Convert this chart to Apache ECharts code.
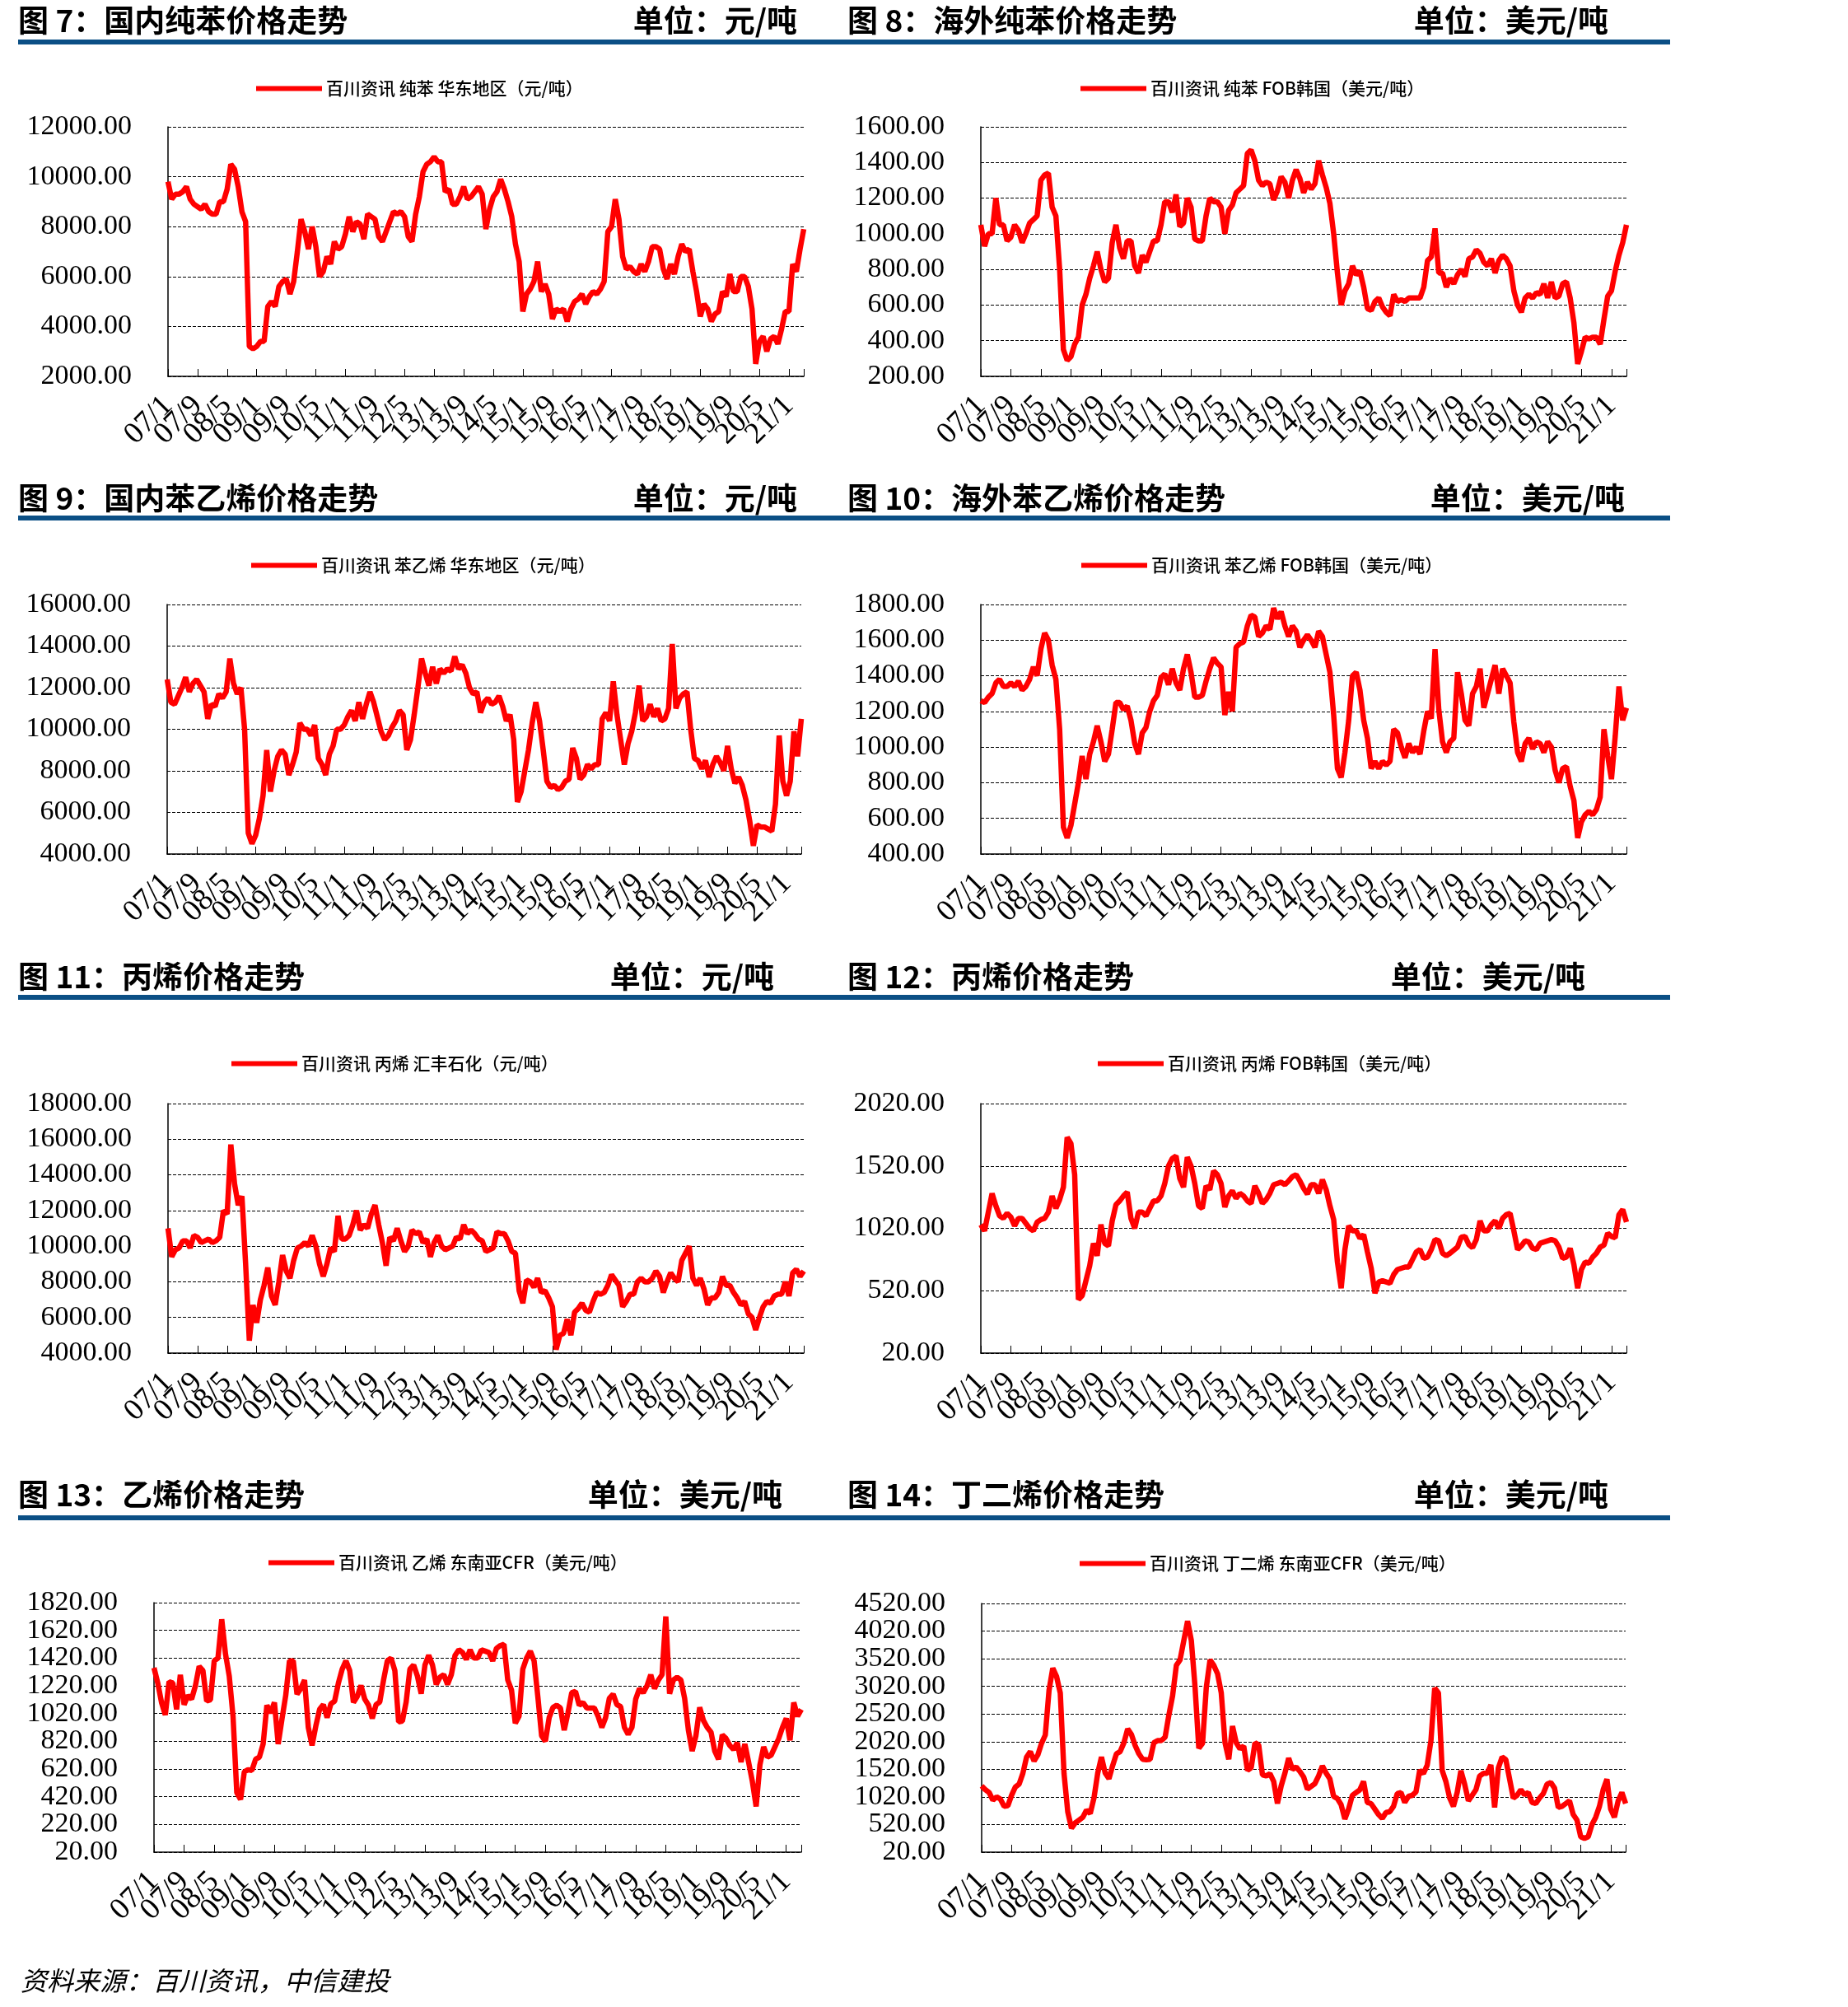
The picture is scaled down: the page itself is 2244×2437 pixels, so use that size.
<!DOCTYPE html>
<html>
<head>
<meta charset="utf-8">
<title>化工品价格走势</title>
<script src="https://cdn.jsdelivr.net/npm/echarts@6.0.0/dist/echarts.min.js"></script>
<style>
  html, body { margin: 0; padding: 0; background: #fff; }
  #main { width: 2244px; height: 2437px; }
</style>
</head>
<body>
<div id="main"></div>
<script>
// 月度类目 07/1 ... 21/5
const months = [];
for (let y = 2007; y <= 2021; y++) {
  for (let m = 1; m <= 12; m++) {
    if (y === 2021 && m > 5) break;
    months.push(String(y).slice(2) + '/' + m);
  }
}

// 图7 纯苯 华东地区（元/吨）
const benzeneEast = [
  9800, 9100, 9300, 9300, 9400, 9600, 9100, 8900, 8800, 8700, 8900, 8600,
  8500, 8500, 9000, 9000, 9500, 10500, 10300, 9600, 8600, 8200, 3200, 3100,
  3200, 3400, 3400, 4800, 5000, 4800, 5600, 5800, 5900, 5300, 5800, 7000,
  8300, 7800, 7100, 8000, 7200, 6000, 6200, 6800, 6500, 7400, 7100, 7200,
  7700, 8400, 7800, 8200, 8100, 7500, 8500, 8400, 8300, 7600, 7400, 7800,
  8200, 8600, 8500, 8600, 8400, 7600, 7400, 8500, 9200, 10200, 10500, 10600,
  10800, 10600, 10600, 9400, 9500, 8900, 8900, 9200, 9600, 9100, 9200, 9400,
  9600, 9300, 7900, 8700, 9200, 9400, 9900, 9500, 9000, 8400, 7300, 6600,
  4600, 5300, 5500, 5800, 6600, 5400, 5700, 5300, 4300, 4700, 4600, 4700,
  4200, 4700, 5000, 5100, 5300, 4900, 5200, 5400, 5300, 5500, 5800, 7800,
  8000, 9100, 8300, 6800, 6300, 6400, 6200, 6100, 6500, 6200, 6600, 7200,
  7200, 7100, 6300, 5900, 6500, 6100, 6800, 7300, 7000, 7100, 6200, 5400,
  4400, 4900, 4700, 4200, 4500, 4600, 5400, 5200, 6100, 5400, 5400, 6000,
  6000, 5600, 4700, 2500, 3400, 3600, 3000, 3500, 3600, 3300, 3900, 4600,
  4600, 6500, 6200, 7100, 7900
];

// 图8 纯苯 FOB韩国（美元/吨）
const benzeneFob = [
  1050, 930, 1000, 1000, 1200, 1050, 1050, 960, 980, 1050, 1020, 950,
  1000, 1060, 1080, 1100, 1300, 1330, 1340, 1150, 1100, 800, 350, 290,
  310, 380, 420, 600, 660, 750, 820, 900, 800, 730, 750, 950,
  1050, 920, 860, 960, 960, 820, 780, 880, 840, 900, 960, 960,
  1050, 1180, 1180, 1120, 1220, 1040, 1060, 1200, 1150, 970, 960, 960,
  1100, 1200, 1180, 1180, 1150, 1000, 1130, 1160, 1230, 1250, 1270, 1450,
  1470, 1410, 1300, 1270, 1290, 1280, 1190, 1240, 1320, 1290, 1200, 1300,
  1360, 1310, 1230, 1290, 1250, 1280, 1410, 1330, 1260, 1170, 1000, 780,
  600, 680, 720, 820, 770, 790, 700, 580, 570, 620, 640, 590,
  560, 540, 660, 620, 630, 620, 640, 640, 640, 640, 700, 850,
  870, 1030, 780, 780, 700, 750, 720, 770, 800, 760, 860, 870,
  910, 890, 840, 820, 860, 780, 850, 880, 860, 820, 680, 600,
  560, 640, 660, 640, 670, 660, 720, 640, 730, 640, 650, 720,
  730, 640, 500, 270, 340, 420, 410, 420, 420, 380, 520, 650,
  680, 790, 880, 950, 1050
];

// 图9 苯乙烯 华东地区（元/吨）
const styreneEast = [
  12400, 11300, 11200, 11600, 12000, 12500, 11800, 12200, 12400, 12100, 11800, 10500,
  11200, 11100, 11700, 11500, 11800, 13400, 12200, 11700, 12000, 10000, 5000, 4500,
  4900, 5700, 6800, 9000, 7000, 8000, 8700, 9000, 8800, 7800, 8300, 8900,
  10300, 10000, 10000, 9700, 10200, 8600, 8300, 7800, 8800, 9200, 10000, 10000,
  10200, 10600, 10900, 10400, 11300, 10500, 11200, 11800, 11300, 10600, 9900, 9500,
  9700, 10100, 10400, 10900, 10700, 9000, 9500, 10700, 12000, 13400, 12700, 12100,
  13000, 12200, 12900, 12700, 12900, 12800, 13500, 12900, 13100, 12700, 12000, 11700,
  11800, 10800, 11300, 11500, 11200, 11300, 11600, 11100, 10400, 10700, 9500, 6500,
  7000, 8000, 9000, 10300, 11300, 10400, 9000, 7500, 7200, 7300, 7100, 7200,
  7500, 7600, 9100, 8600, 7600, 7800, 8300, 8100, 8300, 8300, 10500, 10800,
  10400, 12300, 10700, 9500, 8300, 9300, 9900, 10800, 12100, 10400, 10600, 11200,
  10600, 11000, 10400, 10500, 11000, 14100, 11000, 11500, 11700, 11800, 10000, 8600,
  8500, 8100, 8500, 7700, 8300, 8700, 8400, 8000, 9200, 8100, 7400, 7700,
  7300, 6600, 5600, 4400, 5400, 5300, 5300, 5200, 5100, 6400, 9700, 7500,
  6800, 7500, 9900, 8700, 10500
];

// 图10 苯乙烯 FOB韩国（美元/吨）
const styreneFob = [
  1260, 1250, 1280, 1300, 1360, 1380, 1340, 1340, 1360, 1340, 1370, 1320,
  1340, 1380, 1450, 1400, 1550, 1640, 1600, 1460, 1380, 1100, 550, 490,
  560, 680, 800, 950, 820, 960, 1030, 1120, 1030, 920, 960, 1100,
  1250, 1250, 1210, 1230, 1150, 1020, 960, 1080, 1110, 1200, 1260, 1290,
  1390, 1410, 1350, 1440, 1360, 1320, 1440, 1520, 1420, 1280, 1280, 1290,
  1370, 1440, 1500, 1470, 1450, 1180, 1310, 1200, 1560, 1580, 1590, 1680,
  1740, 1730, 1620, 1640, 1680, 1660, 1780, 1720, 1760, 1680, 1620, 1680,
  1650, 1560, 1600, 1630, 1600, 1560, 1650, 1620, 1520, 1420, 1180, 880,
  830, 970, 1150, 1400, 1420, 1320, 1150, 1050, 880, 920, 880, 920,
  900, 920, 1100, 1080, 1000, 940, 1020, 970, 1000, 960, 1090, 1200,
  1160, 1550, 1210, 1030, 970, 1030, 1050, 1420, 1300, 1150, 1120, 1300,
  1340, 1440, 1220, 1300, 1380, 1460, 1300, 1440, 1400, 1360, 1140, 970,
  920, 1020, 1050, 990, 1030, 1020, 970, 1030, 1000, 870, 800, 880,
  890, 780, 700, 490, 580, 620, 640, 620, 650, 720, 1100, 950,
  820, 1060, 1340, 1150, 1220
];

// 图11 丙烯 汇丰石化（元/吨）
const propyleneEast = [
  11000, 9400, 9800, 9900, 10300, 10300, 9900, 10600, 10500, 10200, 10300, 10400,
  10200, 10300, 10500, 12000, 11800, 15700, 13500, 12300, 12800, 9000, 4700, 6700,
  5700, 7000, 7800, 8800, 7200, 6700, 8000, 9500, 8600, 8200, 9200, 9900,
  10000, 10200, 10000, 10600, 10000, 9000, 8300, 9000, 9900, 9700, 11700, 10400,
  10400, 10600, 11200, 12000, 10900, 11200, 11000, 11800, 12300, 11200, 10200, 8900,
  10500, 10300, 11000, 10300, 9700, 10000, 10900, 10700, 10800, 10200, 10400, 9400,
  10200, 10600, 10000, 9800, 9900, 10000, 10500, 10400, 11200, 10700, 10900, 10700,
  10400, 10300, 9700, 9800, 9900, 10800, 10700, 10700, 10300, 9700, 9600, 7500,
  6800, 8100, 8000, 7700, 8200, 7400, 7500, 7100, 6600, 4200, 5000, 5100,
  5900, 5000, 6300, 6500, 6800, 6400, 6300, 6900, 7400, 7300, 7400, 7800,
  8400, 8100, 7800, 6600, 6900, 7300, 7300, 8000, 8200, 8000, 8000, 8200,
  8600, 8300, 7400, 8000, 8500, 8200, 8000, 9200, 9600, 10000, 8200, 7800,
  8200, 7600, 6700, 7100, 7100, 7400, 8300, 7800, 7800, 7400, 7100, 6700,
  6900, 6200, 6000, 5300, 6000, 6600, 6900, 6800, 7200, 7300, 7300, 8000,
  7200, 8500, 8700, 8300, 8600
];

// 图12 丙烯 FOB韩国（美元/吨）
const propyleneFob = [
  1050, 1000, 1150, 1300, 1200, 1120, 1100, 1140, 1110, 1040, 1100, 1100,
  1060, 1020, 1000, 1070, 1090, 1100, 1150, 1280, 1180, 1250, 1350, 1750,
  1700, 1450, 450, 480, 600, 720, 900, 800, 1050, 900, 880, 1080,
  1210, 1240, 1280, 1310, 1100, 1020, 1150, 1150, 1120, 1180, 1240, 1240,
  1280, 1380, 1520, 1580, 1600, 1420, 1350, 1590, 1520, 1380, 1200, 1180,
  1360, 1330, 1480, 1450, 1380, 1190, 1280, 1320, 1260, 1300, 1280, 1240,
  1220, 1360, 1300, 1220, 1250, 1300, 1370, 1380, 1390, 1370, 1400, 1435,
  1450, 1400, 1340, 1295, 1370, 1370, 1300, 1410, 1330, 1200, 1090, 750,
  540, 850, 1040, 1000, 1000, 940, 970, 830, 700, 500, 590, 600,
  590, 580, 650, 690, 700, 710, 710, 770, 830, 850, 780, 790,
  850, 930, 920, 820, 800, 820, 845, 870, 950, 955, 890, 865,
  930, 1080, 1000, 1000, 1050, 1080, 1020, 1100, 1130, 1140, 1000, 850,
  880, 920, 910, 860, 850, 900, 910, 920, 930, 920, 870, 780,
  790, 860, 730, 540, 690, 750, 740, 790, 820, 870, 885, 980,
  955, 945, 1130, 1170, 1070
];

// 图13 乙烯 东南亚CFR（美元/吨）
const ethyleneCfr = [
  1350, 1240, 1100, 1010, 1250, 1240, 1050, 1300, 1084, 1150, 1124, 1220,
  1360, 1330, 1110, 1120, 1400, 1420, 1700, 1450, 1290, 1000, 450, 400,
  600, 615, 610, 690, 705, 800, 1080, 1025, 1100, 800, 980, 1150,
  1400, 1400, 1160, 1200, 1262, 920, 790, 930, 1050, 1084, 990, 1090,
  1110, 1240, 1340, 1400, 1330, 1100, 1143, 1222, 1124, 1080, 985, 1084,
  1104, 1262, 1400, 1420, 1330, 960, 965, 1104, 1340, 1370, 1290, 1163,
  1370, 1440, 1370, 1230, 1282, 1300, 1230, 1300, 1440, 1480, 1460, 1410,
  1480, 1420, 1420, 1480, 1470, 1460, 1400, 1490, 1510, 1520, 1262, 1190,
  950, 1000, 1340, 1420, 1470, 1400, 1140, 860, 820, 990, 1064, 1080,
  1060, 900, 1025, 1170, 1180, 1080, 1100, 1060, 1060, 1060, 1000, 920,
  990, 1130, 1160, 1084, 1070, 920, 870, 920, 1124, 1200, 1170, 1220,
  1300, 1200, 1260, 1300, 1720, 1163, 1262, 1282, 1262, 1130, 900, 750,
  860, 1064, 970, 920, 886, 750, 690, 866, 840, 790, 760, 810,
  670, 800, 669, 530, 350, 649, 780, 705, 720, 780, 840, 920,
  985, 827, 1100, 1000, 1050
];

// 图14 丁二烯 东南亚CFR（美元/吨）
const butadieneCfr = [
  1220, 1150, 1100, 960, 1020, 980, 850, 860, 1050, 1200, 1250, 1445,
  1740, 1840, 1670, 1780, 1990, 2140, 2950, 3350, 3200, 2900, 1445, 750,
  453, 550, 600, 650, 780, 720, 1000, 1450, 1740, 1450, 1350, 1590,
  1800, 1840, 2000, 2250, 2150, 1950, 1800, 1700, 1693, 1700, 2000, 2040,
  2040, 2100, 2500, 2850, 3400, 3500, 3850, 4200, 3850, 3000, 1900, 1990,
  3000, 3500, 3400, 3250, 2900, 2000, 1700, 2300, 2000, 1890, 1940, 1500,
  1550, 2000, 1960, 1420, 1400, 1440, 1300, 900, 1220, 1450, 1720, 1520,
  1560, 1480, 1380, 1160, 1210, 1260, 1400, 1580, 1450, 1346, 1030, 990,
  880, 620, 800, 1048, 1098, 1148, 1300, 920, 899, 800, 701, 630,
  740, 750, 849, 1080, 1098, 920, 1030, 1048, 1110, 1500, 1445, 1594,
  2040, 2990, 2900, 1500, 1296, 1000, 850, 1098, 1495, 1250, 949, 1048,
  1148, 1396, 1445, 1445, 1600, 830, 1544, 1742, 1693, 1346, 998, 1048,
  1148, 1060, 1098, 920, 899, 1000, 1080, 1250, 1280, 1180, 830, 849,
  899, 949, 701, 601, 300, 270, 300, 520, 651, 849, 1150, 1340,
  800, 651, 949, 1098, 899
];

// 纵轴刻度（起点不是步长倍数的用自定义刻度）
const ticks12 = [20, 520, 1020, 1520, 2020];
const ticks13 = [20, 220, 420, 620, 820, 1020, 1220, 1420, 1620, 1820];
const ticks14 = [20, 520, 1020, 1520, 2020, 2520, 3020, 3520, 4020, 4520];

// 横轴每8个月一个刻度标签
const labelStep = 8;

const panels = [
  { name: '百川资讯 纯苯 华东地区（元/吨）', data: benzeneEast, grid: [204, 154, 772, 303], legend: [311, 97], y: { min: 2000, max: 12000, interval: 2000 } },
  { name: '百川资讯 纯苯 FOB韩国（美元/吨）', data: benzeneFob, grid: [1191, 154, 784, 303], legend: [1312, 97], y: { min: 200, max: 1600, interval: 200 } },
  { name: '百川资讯 苯乙烯 华东地区（元/吨）', data: styreneEast, grid: [203, 734, 770, 303], legend: [305, 676], y: { min: 4000, max: 16000, interval: 2000 } },
  { name: '百川资讯 苯乙烯 FOB韩国（美元/吨）', data: styreneFob, grid: [1191, 734, 784, 303], legend: [1313, 676], y: { min: 400, max: 1800, interval: 200 } },
  { name: '百川资讯 丙烯 汇丰石化（元/吨）', data: propyleneEast, grid: [204, 1340, 772, 303], legend: [281, 1281], y: { min: 4000, max: 18000, interval: 2000 } },
  { name: '百川资讯 丙烯 FOB韩国（美元/吨）', data: propyleneFob, grid: [1191, 1340, 784, 303], legend: [1333, 1281], y: { min: 20, max: 2020, ticks: ticks12 } },
  { name: '百川资讯 乙烯 东南亚CFR（美元/吨）', data: ethyleneCfr, grid: [187, 1946, 786, 303], legend: [326, 1887], y: { min: 20, max: 1820, ticks: ticks13 } },
  { name: '百川资讯 丁二烯 东南亚CFR（美元/吨）', data: butadieneCfr, grid: [1192, 1947, 782, 302], legend: [1311, 1888], y: { min: 20, max: 4520, ticks: ticks14 } }
];

// 标题行：[左标题, 单位, 左x, 单位右端x, y]
const headers = [
  ['图 7：国内纯苯价格走势', '单位：元/吨', 22, 968, 25],
  ['图 8：海外纯苯价格走势', '单位：美元/吨', 1029, 1953, 25],
  ['图 9：国内苯乙烯价格走势', '单位：元/吨', 22, 968, 605],
  ['图 10：海外苯乙烯价格走势', '单位：美元/吨', 1029, 1973, 605],
  ['图 11：丙烯价格走势', '单位：元/吨', 22, 940, 1186],
  ['图 12：丙烯价格走势', '单位：美元/吨', 1029, 1925, 1186],
  ['图 13：乙烯价格走势', '单位：美元/吨', 22, 950, 1815],
  ['图 14：丁二烯价格走势', '单位：美元/吨', 1029, 1953, 1815]
];
const ruleY = [48, 626, 1208, 1840];

const cjk = '"Noto Sans CJK SC", sans-serif';
const serif = '"Liberation Serif", serif';

const graphic = [];
headers.forEach(h => {
  graphic.push({ type: 'text', x: h[2], y: h[4], style: { text: h[0], fill: '#000', fontFamily: cjk, fontSize: 37, fontWeight: 'bold', textAlign: 'left', textVerticalAlign: 'middle' } });
  graphic.push({ type: 'text', x: h[3], y: h[4], style: { text: h[1], fill: '#000', fontFamily: cjk, fontSize: 37, fontWeight: 'bold', textAlign: 'right', textVerticalAlign: 'middle' } });
});
ruleY.forEach(y => {
  graphic.push({ type: 'rect', shape: { x: 22, y: y, width: 2006, height: 6 }, style: { fill: '#0b4f85' } });
});
graphic.push({ type: 'text', x: 25, y: 2405, style: { text: '资料来源：百川资讯，中信建投', fill: '#000', fontFamily: cjk, fontSize: 32, fontStyle: 'italic', textVerticalAlign: 'middle' } });

const yLabelStyle = {
  margin: 44, color: '#000', fontFamily: serif, fontSize: 34,
  formatter: v => Number(v).toFixed(2)
};

// 主纵轴：轴线、网格线；自定义刻度时标签隔一个放，剩下的放到叠加的第二根轴上（避免首尾标签被当作重叠隐藏）
const yAxes = panels.map((p, i) => ({
  type: 'value',
  gridIndex: i,
  min: p.y.min,
  max: p.y.max,
  interval: p.y.interval,
  axisLine: { show: true, lineStyle: { color: '#000', width: 1.5 } },
  axisTick: { show: false, customValues: p.y.ticks },
  axisLabel: Object.assign({}, yLabelStyle, p.y.ticks ? { customValues: p.y.ticks.filter((t, k) => k % 2 === 0) } : {}),
  splitLine: { show: true, lineStyle: { color: '#000', width: 1, type: [4, 2] } }
}));
panels.forEach((p, i) => {
  if (!p.y.ticks) return;
  yAxes.push({
    type: 'value',
    gridIndex: i,
    position: 'left',
    min: p.y.min,
    max: p.y.max,
    axisLine: { show: false },
    axisTick: { show: false },
    splitLine: { show: false },
    axisLabel: Object.assign({}, yLabelStyle, { customValues: p.y.ticks.filter((t, k) => k % 2 === 1) })
  });
});

const chart = echarts.init(document.getElementById('main'));

const option = {
  animation: false,
  backgroundColor: '#fff',
  graphic: graphic,
  legend: panels.map(p => ({
    data: [p.name],
    left: p.legend[0],
    top: p.legend[1],
    padding: 0,
    icon: 'rect',
    itemWidth: 80,
    itemHeight: 6,
    selectedMode: false,
    textStyle: { fontFamily: cjk, fontSize: 21, fontWeight: 500, color: '#000' }
  })),
  grid: panels.map(p => ({
    left: p.grid[0], top: p.grid[1], width: p.grid[2], height: p.grid[3],
    outerBoundsMode: 'none'
  })),
  xAxis: panels.map((p, i) => ({
    type: 'category',
    gridIndex: i,
    data: months,
    boundaryGap: false,
    axisLine: { lineStyle: { color: '#000', width: 1.5 } },
    axisTick: { inside: true, length: 9, interval: labelStep - 1, lineStyle: { color: '#000' } },
    axisLabel: {
      interval: 0,
      showMinLabel: true,
      showMaxLabel: true,
      rotate: 45,
      margin: 30,
      color: '#000',
      fontFamily: serif,
      fontSize: 37,
      lineHeight: 30,
      formatter: (v, idx) => (idx % labelStep === 0 ? v : '')
    },
    splitLine: { show: false }
  })),
  yAxis: yAxes,
  series: panels.map((p, i) => ({
    type: 'line',
    name: p.name,
    xAxisIndex: i,
    yAxisIndex: i,
    data: p.data,
    symbol: 'none',
    lineStyle: { color: '#ff0000', width: 6.5 },
    itemStyle: { color: '#ff0000' }
  }))
};

chart.setOption(option);
</script>
</body>
</html>
